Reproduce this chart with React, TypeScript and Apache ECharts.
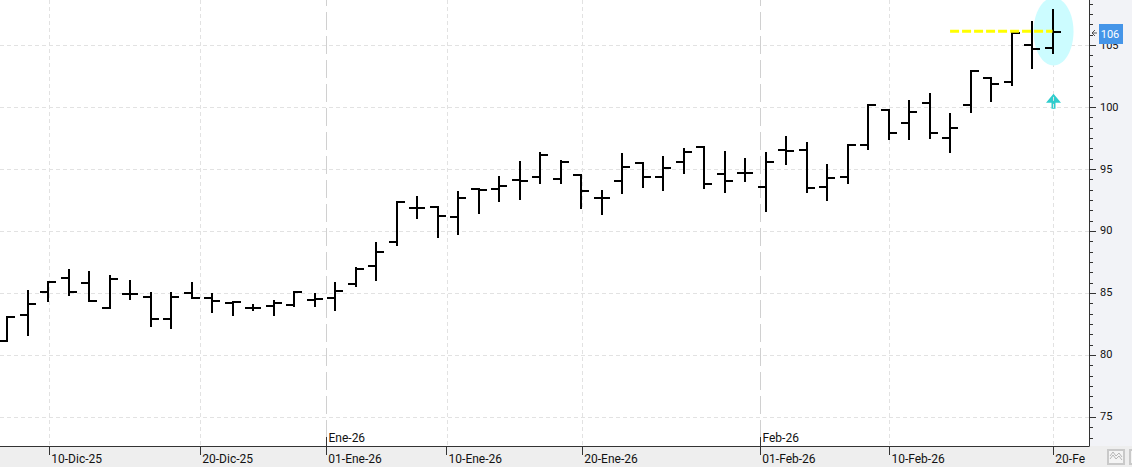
import * as echarts from "echarts";
import { useEffect, useRef } from "react";

const opens = [
  81.15, 83.24, 85.12, 86.17, 85.77, 83.83, 84.94, 84.64, 82.87, 84.99, 84.56, 84.16, 83.75,
  83.92, 84.05, 84.4, 84.56, 85.74, 87.14, 89.15, 91.89, 91.97, 91.14, 93.42, 93.4, 94.12,
  94.39, 94.23, 94.53, 92.7, 94.07, 95.52, 94.39, 95.6, 96.75, 94.61, 94.71, 93.58, 96.54,
  96.57, 93.56, 94.36, 96.94, 99.79, 98.71, 100.35, 97.51, 100.17, 102.34, 102.05, 105.03,
  104.76,
];
const closes = [
  83.06, 84.13, 85.85, 85.04, 84.32, 86.14, 84.94, 82.92, 84.64, 84.56, 84.32, 84.24, 83.81,
  84.16, 85.12, 84.48, 85.2, 86.9, 88.34, 92.32, 91.89, 91.22, 92.67, 93.32, 93.64, 94.07,
  96.14, 95.6, 93.26, 92.7, 95.2, 94.39, 95.09, 96.4, 93.83, 94.07, 94.71, 95.6, 96.49,
  93.48, 94.28, 96.94, 100.19, 97.91, 99.6, 97.91, 98.31, 102.93, 101.86, 105.94, 104.68,
  106.07,
];
const lows = [
  81.15, 81.61, 84.32, 84.83, 84.32, 83.83, 84.51, 82.3, 82.14, 84.56, 83.46, 83.19, 83.59,
  83.19, 83.92, 83.92, 83.59, 85.53, 86.07, 88.91, 91.01, 89.48, 89.72, 91.44, 92.38, 92.62,
  93.91, 93.85, 91.89, 91.41, 93.1, 93.58, 93.27, 94.71, 93.5, 93.18, 94.07, 91.62, 95.44,
  93.18, 92.54, 93.91, 96.65, 97.45, 97.45, 97.53, 96.4, 99.63, 100.51, 101.78, 103.17,
  104.38,
];
const highs = [
  83.06, 85.2, 85.85, 86.82, 86.73, 86.41, 85.93, 84.99, 84.99, 85.8, 84.94, 84.24, 84.02,
  84.37, 85.12, 84.94, 85.8, 87.0, 89.02, 92.32, 92.78, 91.97, 93.18, 93.42, 94.34, 95.55,
  96.32, 95.68, 94.53, 93.21, 96.19, 95.52, 95.95, 96.65, 96.75, 96.38, 95.79, 96.27, 97.56,
  97.08, 95.33, 96.94, 100.19, 99.79, 100.49, 101.02, 99.44, 102.93, 102.34, 105.94, 106.83,
  107.82,
];

// date ticks sit between bars, so they are fractional bar positions
const dayTicks = [2.04, 9.41, 15.56, 21.43, 28.05, 36.74, 43.04, 51.04];
const dayLabels = ["10-Dic-25", "20-Dic-25", "01-Ene-26", "10-Ene-26", "20-Ene-26", "01-Feb-26", "10-Feb-26", "20-Fe"];
const monthTicks = [15.56, 36.74];
const monthLabels = ["Ene-26", "Feb-26"];
const plainDayTicks = [2.04, 9.41, 21.43, 28.05, 43.04, 51.04];

const priceLabels = [75, 80, 85, 90, 95, 100, 105];
const lastPrice = 106;
const lastPriceLine = 106.1;
const lineFrom = 46;
const lastBar = 51;
const arrowBase = 99.85;

// six small ticks to every 5 points on the price axis
const minorPrices: number[] = [];
for (let k = 0; k < 43; k++) minorPrices.push(75 - (5 / 6) * 2 + (k * 5) / 6);

const FONT = "Roboto";
const AXIS_X = 1089;
const xMax = 52.78;

export default function App() {
  const chartRef = useRef<HTMLDivElement>(null);

  useEffect(() => {
    const chart = echarts.init(chartRef.current!, null, { renderer: "svg" });
    chart.setOption({
      animation: false,
      backgroundColor: "#ffffff",
      textStyle: { fontFamily: FONT },
      grid: { left: 0, top: 0, right: 43, bottom: 21, containLabel: false },
      graphic: {
        elements: [
          { type: "rect", z: -10, silent: true, shape: { x: AXIS_X, y: 0, width: 43, height: 446 }, style: { fill: "#f2f3f7" } },
          { type: "rect", z: -10, silent: true, shape: { x: 0, y: 446, width: 1132, height: 21 }, style: { fill: "#eeeeee" } },
          { type: "rect", z: 5, silent: true, shape: { x: 1108, y: 450, width: 16, height: 14 }, style: { fill: "#f4f4f4", stroke: "#c9c9c9", lineWidth: 2 } },
          { type: "rect", z: 5, silent: true, shape: { x: 1130, y: 450, width: 16, height: 14 }, style: { fill: "#f4f4f4", stroke: "#c9c9c9", lineWidth: 2 } },
          { type: "polyline", z: 6, silent: true, shape: { points: [[1110, 456], [1113, 452], [1116, 456], [1119, 453], [1122, 457]] }, style: { fill: "none", stroke: "#b5b5b5", lineWidth: 1 } },
          { type: "polyline", z: 6, silent: true, shape: { points: [[1110, 459], [1113, 455], [1116, 459], [1119, 456], [1122, 460]] }, style: { fill: "none", stroke: "#b5b5b5", lineWidth: 1 } },
        ],
      },
      xAxis: {
        type: "value",
        min: -0.366,
        max: xMax,
        axisLine: { show: true, onZero: false, lineStyle: { color: "#333333", width: 1 } },
        axisTick: { show: true, length: 9, customValues: dayTicks, lineStyle: { color: "#333333", width: 1 } },
        axisLabel: {
          show: true,
          customValues: dayTicks,
          align: "left",
          margin: 7,
          fontSize: 12,
          fontFamily: FONT,
          color: "#111111",
          padding: [0, 0, 0, 2],
          formatter: (v: number) => dayLabels[dayTicks.indexOf(v)] ?? "",
        },
        splitLine: { show: false },
      },
      yAxis: {
        type: "value",
        position: "right",
        min: 72.66,
        max: 108.63,
        axisLine: { show: true, onZero: false, lineStyle: { color: "#333333", width: 1 } },
        axisTick: { show: false, customValues: priceLabels },
        axisLabel: {
          show: true,
          customValues: priceLabels,
          margin: 11,
          fontSize: 11,
          fontFamily: FONT,
          color: "#111111",
        },
        splitLine: { show: true, lineStyle: { color: "#e2e2e2", width: 1, type: [4, 3] } },
      },
      series: [
        // day gridlines
        {
          type: "custom",
          silent: true,
          z: 1,
          data: plainDayTicks.map((t) => [t]),
          encode: { x: 0 },
          clip: true,
          renderItem: (_p: any, api: any) => {
            const x = Math.round(api.coord([api.value(0), 80])[0]) + 0.5;
            return {
              type: "line",
              shape: { x1: x, y1: 0, x2: x, y2: 446 },
              style: { stroke: "#e2e2e2", lineWidth: 1, lineDash: [4, 3], fill: "none" },
            };
          },
        },
        // month gridlines, with the month name above the axis
        {
          type: "custom",
          silent: true,
          z: 1,
          data: monthTicks.map((t) => [t]),
          encode: { x: 0 },
          clip: false,
          renderItem: (p: any, api: any) => {
            const x = Math.round(api.coord([api.value(0), 80])[0]) + 0.5;
            return {
              type: "group",
              children: [
                { type: "line", shape: { x1: x, y1: -12, x2: x, y2: 437 }, style: { stroke: "#d0d0d0", lineWidth: 1, lineDash: [18, 6], fill: "none" } },
                { type: "line", shape: { x1: x, y1: 437, x2: x, y2: 446 }, style: { stroke: "#333333", lineWidth: 1, fill: "none" } },
                {
                  type: "text",
                  x: x + 2,
                  y: 432,
                  style: { text: monthLabels[p.dataIndex], fontFamily: FONT, fontSize: 12, fill: "#111111", verticalAlign: "top", align: "left" },
                },
              ],
            };
          },
        },
        // price axis ticks, long at the labelled prices
        {
          type: "custom",
          silent: true,
          z: 6,
          clip: false,
          data: minorPrices.filter((v) => v > 72.66 && v < 108.63).map((v) => [xMax, v, 4]).concat(priceLabels.map((v) => [xMax, v, 7])),
          encode: { x: 0, y: 1 },
          renderItem: (_p: any, api: any) => {
            const y = Math.round(api.coord([api.value(0), api.value(1)])[1]) + 0.5;
            return {
              type: "line",
              shape: { x1: AXIS_X, y1: y, x2: AXIS_X + api.value(2), y2: y },
              style: { stroke: "#333333", lineWidth: 1, fill: "none" },
            };
          },
        },
        // highlight ellipse round the last bar
        {
          type: "custom",
          silent: true,
          z: 2,
          clip: false,
          data: [[lastBar, lastPrice]],
          encode: { x: 0, y: 1 },
          renderItem: (_p: any, api: any) => {
            const c = api.coord([api.value(0), api.value(1)]);
            return {
              type: "ellipse",
              shape: { cx: c[0] + 1, cy: c[1] - 1, rx: 20, ry: 34 },
              style: { fill: "#ccfcff" },
            };
          },
        },
        // OHLC bars: open tick left, close tick right
        {
          type: "custom",
          silent: true,
          z: 4,
          clip: true,
          data: opens.map((o, i) => [i, o, closes[i], lows[i], highs[i]]),
          encode: { x: 0, y: [1, 2, 3, 4] },
          renderItem: (_p: any, api: any) => {
            const i = api.value(0);
            const x = Math.round(api.coord([i, 80])[0]);
            const yo = Math.round(api.coord([i, api.value(1)])[1]);
            const yc = Math.round(api.coord([i, api.value(2)])[1]);
            const yl = Math.round(api.coord([i, api.value(3)])[1]);
            const yh = Math.round(api.coord([i, api.value(4)])[1]);
            const fill = { fill: "#000000" };
            return {
              type: "group",
              children: [
                { type: "rect", shape: { x: x - 1, y: yh - 1, width: 2, height: yl - yh + 2 }, style: fill },
                { type: "rect", shape: { x: x - 8, y: yo - 1, width: 7, height: 2 }, style: fill },
                { type: "rect", shape: { x: x + 1, y: yc - 1, width: 7, height: 2 }, style: fill },
              ],
            };
          },
        },
        // yellow last price line
        {
          type: "line",
          z: 5,
          silent: true,
          symbol: "none",
          data: [[lineFrom, lastPriceLine], [lastBar, lastPriceLine]],
          lineStyle: { color: "#ffff00", width: 3, type: [9, 3] },
        },
        // teal up arrow under the last bar
        {
          type: "custom",
          silent: true,
          z: 5,
          clip: false,
          data: [[lastBar, arrowBase]],
          encode: { x: 0, y: 1 },
          renderItem: (_p: any, api: any) => {
            const c = api.coord([api.value(0), api.value(1)]);
            const x = Math.round(c[0]) + 0.5;
            const y = c[1];
            return {
              type: "group",
              children: [
                {
                  type: "polygon",
                  shape: {
                    points: [
                      [x, y - 15],
                      [x + 7.5, y - 6],
                      [x + 2, y - 6],
                      [x + 2, y],
                      [x - 2, y],
                      [x - 2, y - 6],
                      [x - 7.5, y - 6],
                    ],
                  },
                  style: { fill: "#2fcdcd" },
                },
                { type: "line", shape: { x1: x, y1: y - 12, x2: x, y2: y + 8 }, style: { stroke: "#e2e2e2", lineWidth: 1, lineDash: [4, 3], fill: "none" } },
              ],
            };
          },
        },
        // last price tag on the axis
        {
          type: "custom",
          silent: true,
          z: 8,
          clip: false,
          data: [[xMax, lastPrice]],
          encode: { x: 0, y: 1 },
          renderItem: (_p: any, api: any) => {
            const c = api.coord([api.value(0), api.value(1)]);
            const y = Math.round(c[1]);
            return {
              type: "group",
              children: [
                { type: "rect", shape: { x: 1099, y: y - 9, width: 24, height: 20 }, style: { fill: "#4595e8" } },
                {
                  type: "polyline",
                  shape: { points: [[1095, y - 3], [1092, y], [1095, y + 3]] },
                  style: { fill: "none", stroke: "#555555", lineWidth: 1 },
                },
                { type: "line", shape: { x1: 1092, y1: y, x2: 1097, y2: y }, style: { stroke: "#555555", lineWidth: 1 } },
                {
                  type: "text",
                  x: 1110,
                  y: y + 1,
                  style: { text: String(api.value(1)), fontFamily: FONT, fontSize: 11, fill: "#ffffff", align: "center", verticalAlign: "middle" },
                },
              ],
            };
          },
        },
      ],
    });
    return () => chart.dispose();
  }, []);

  return <div ref={chartRef} style={{ position: "absolute", left: 0, top: 0, width: 1132, height: 467, overflow: "hidden" }} />;
}
